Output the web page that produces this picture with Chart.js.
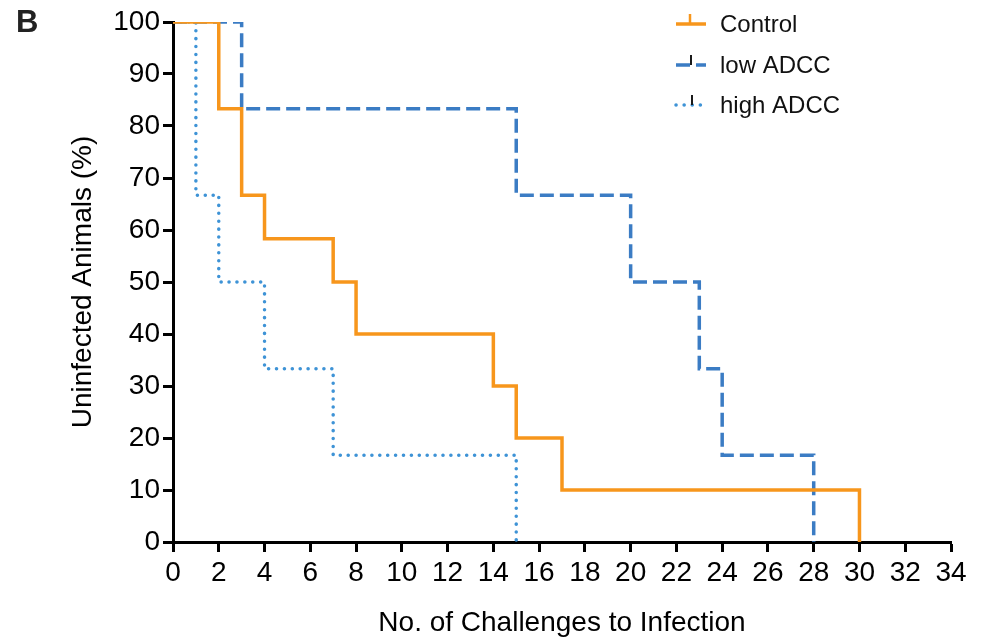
<!DOCTYPE html>
<html>
<head>
<meta charset="utf-8">
<script src="https://cdn.jsdelivr.net/npm/chart.js@4/dist/chart.umd.min.js"></script>
<style>
  html, body { margin: 0; padding: 0; background: #ffffff; }
  #wrap { position: relative; width: 987px; height: 642px; }
</style>
</head>
<body>
<div id="wrap"><canvas id="km" width="987" height="642"></canvas></div>
<script>
// Kaplan–Meier survival steps: challenge number at which the curve drops, and % uninfected after it
const controlX = [0, 2, 3, 4, 7, 8, 14, 15, 17, 30];
const controlY = [100, 83.3, 66.7, 58.3, 50, 40, 30, 20, 10, 0];

const lowAdccX = [0, 3, 15, 20, 23, 24, 28];
const lowAdccY = [100, 83.3, 66.7, 50, 33.3, 16.7, 0];

const highAdccX = [0, 1, 2, 4, 7, 15];
const highAdccY = [100, 66.7, 50, 33.3, 16.7, 0];

const seriesNames = ['Control', 'low ADCC', 'high ADCC'];
const xTicks = [0, 2, 4, 6, 8, 10, 12, 14, 16, 18, 20, 22, 24, 26, 28, 30, 32, 34];
const yTicks = [0, 10, 20, 30, 40, 50, 60, 70, 80, 90, 100];

const ORANGE = '#F7961C';
const BLUE_DASH = '#3B7CC4';
const BLUE_DOT = '#3E93D6';
const FONT = '"Liberation Sans", Arial, Helvetica, sans-serif';

const toPoints = (xs, ys) => xs.map((x, i) => ({ x: x, y: ys[i] }));

// Panel letter and the legend with its censor-tick symbols
const decorPlugin = {
  id: 'decor',
  afterDraw(chart) {
    const ctx = chart.ctx;
    ctx.save();
    ctx.fillStyle = '#222222';
    ctx.font = 'bold 31px ' + FONT;
    ctx.textBaseline = 'alphabetic';
    ctx.textAlign = 'left';
    ctx.fillText('B', 16, 32);

    const rows = [
      { y: 24, color: ORANGE, dash: [], tickX: 690 },
      { y: 65, color: BLUE_DASH, dash: [14, 6], tickX: 691 },
      { y: 105, color: BLUE_DOT, dash: [0.1, 8], tickX: 692 }
    ];
    rows.forEach((r, i) => {
      ctx.strokeStyle = r.color;
      ctx.lineWidth = 3.5;
      ctx.setLineDash(r.dash);
      ctx.lineCap = r.dash.length && r.dash[0] < 1 ? 'round' : 'butt';
      ctx.beginPath();
      ctx.moveTo(676, r.y);
      ctx.lineTo(706, r.y);
      ctx.stroke();
      ctx.setLineDash([]);
      ctx.lineCap = 'butt';
      ctx.strokeStyle = i === 0 ? ORANGE : '#1a1a1a';
      ctx.lineWidth = i === 0 ? 2.5 : 2;
      ctx.beginPath();
      ctx.moveTo(r.tickX, r.y - 10);
      ctx.lineTo(r.tickX, r.y);
      ctx.stroke();

      ctx.fillStyle = '#111111';
      ctx.font = '24px ' + FONT;
      ctx.textBaseline = 'middle';
      ctx.fillText(seriesNames[i], 720, r.y + 1);
    });
    ctx.restore();
  }
};

new Chart(document.getElementById('km'), {
  type: 'line',
  data: {
    datasets: [
      {
        label: seriesNames[0],
        data: toPoints(controlX, controlY),
        borderColor: ORANGE,
        borderWidth: 3.5,
        stepped: 'before',
        pointRadius: 0,
        fill: false
      },
      {
        label: seriesNames[1],
        data: toPoints(lowAdccX, lowAdccY),
        borderColor: BLUE_DASH,
        borderWidth: 3.5,
        borderDash: [14, 6],
        stepped: 'before',
        pointRadius: 0,
        fill: false
      },
      {
        label: seriesNames[2],
        data: toPoints(highAdccX, highAdccY),
        borderColor: BLUE_DOT,
        borderWidth: 3.5,
        borderDash: [0.1, 7.8],
        borderCapStyle: 'round',
        stepped: 'before',
        pointRadius: 0,
        fill: false
      }
    ]
  },
  options: {
    responsive: false,
    animation: false,
    devicePixelRatio: 1,
    layout: { padding: { left: 0, top: 22, right: 36, bottom: 0 } },
    plugins: {
      legend: { display: false },
      tooltip: { enabled: false }
    },
    scales: {
      x: {
        type: 'linear',
        min: 0,
        max: 34,
        afterBuildTicks(scale) { scale.ticks = xTicks.map(v => ({ value: v })); },
        afterFit(scale) { scale.height = 100; },
        border: { display: true, color: '#000000', width: 3 },
        grid: { drawOnChartArea: false, drawTicks: true, tickLength: 10, tickWidth: 3, tickColor: '#000000' },
        ticks: { color: '#000000', font: { family: FONT, size: 28 }, padding: 4, maxRotation: 0, autoSkip: false },
        title: {
          display: true,
          text: 'No. of Challenges to Infection',
          color: '#000000',
          font: { family: FONT, size: 28 },
          padding: { top: 0, bottom: 2 }
        }
      },
      y: {
        type: 'linear',
        min: 0,
        max: 100,
        afterBuildTicks(scale) { scale.ticks = yTicks.map(v => ({ value: v })); },
        afterFit(scale) { scale.width = 173; },
        border: { display: true, color: '#000000', width: 3 },
        grid: { drawOnChartArea: false, drawTicks: true, tickLength: 10, tickWidth: 3, tickColor: '#000000' },
        ticks: { color: '#000000', font: { family: FONT, size: 28 }, padding: 3, autoSkip: false },
        title: {
          display: true,
          text: 'Uninfected Animals (%)',
          color: '#000000',
          font: { family: FONT, size: 28 },
          padding: { top: 66, bottom: 0 }
        }
      }
    }
  },
  plugins: [decorPlugin]
});
</script>
</body>
</html>
